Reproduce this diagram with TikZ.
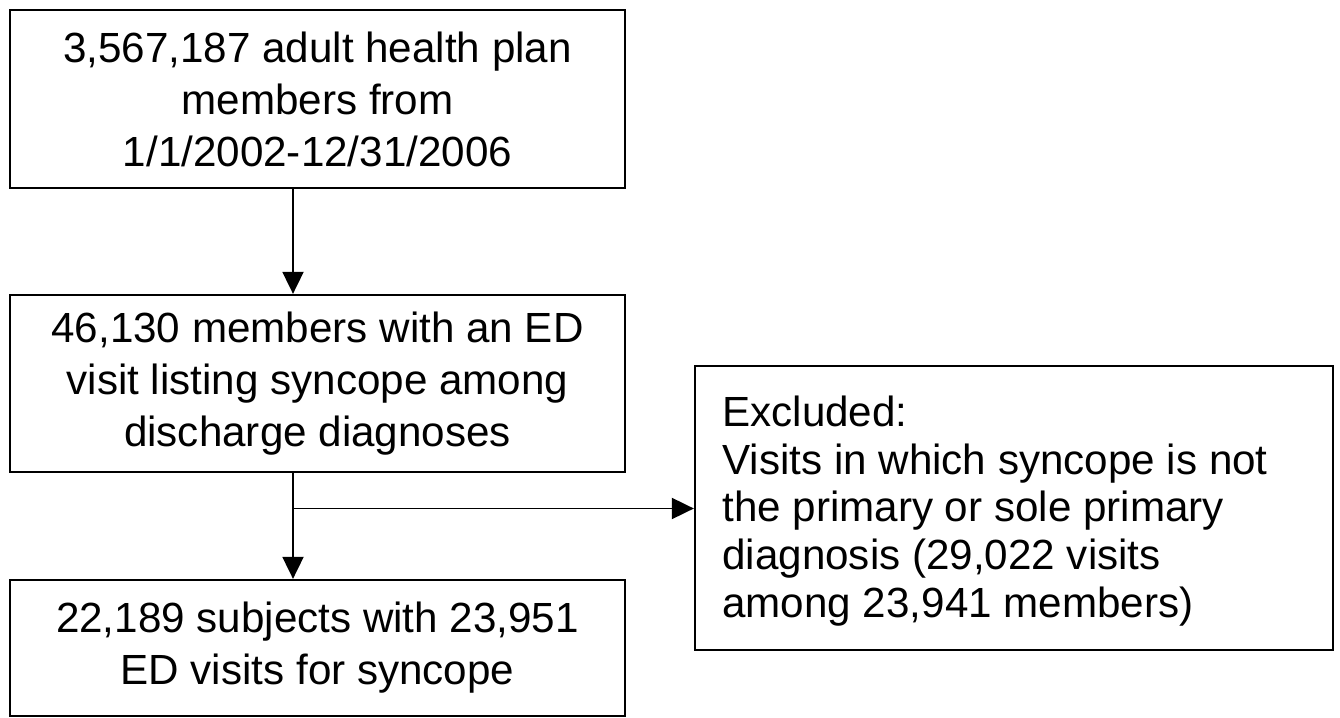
\documentclass[tikz,border=0pt]{standalone}
\usepackage{fontspec}
\setmainfont{Liberation Sans}
\usetikzlibrary{arrows.meta,positioning}

\begin{document}
\begin{tikzpicture}[
    box/.style={draw,line width=1.3pt,align=center,inner sep=0pt,
      font=\fontsize{24}{29.6}\selectfont},
    arr/.style={-{Triangle[length=0.44cm,width=0.42cm]},line width=1.1pt}
]
\useasboundingbox (0,0) rectangle (26.8,-14.36);

\node[box,minimum width=12.3cm,minimum height=3.56cm] (members) at (6.35,-1.98)
  {3,567,187 adult health plan\\members from\\1/1/2002-12/31/2006};
\node[box,minimum width=12.3cm,minimum height=3.54cm] (edvisit) at (6.35,-7.67)
  {46,130 members with an ED\\visit listing syncope among\\discharge diagnoses};
\node[box,minimum width=12.3cm,minimum height=2.72cm] (subjects) at (6.35,-12.96)
  {22,189 subjects with 23,951\\ED visits for syncope};
\node[box,minimum width=12.76cm,minimum height=5.68cm,align=left,
  font=\fontsize{24}{27.2}\selectfont] (excl) at (20.28,-10.16) {};
\node[align=left,anchor=west,inner sep=0pt,font=\fontsize{24}{27.2}\selectfont]
  (excltext) at (14.44,-10.22)
  {Excluded:\\Visits in which syncope is not\\the primary or sole primary\\diagnosis (29,022 visits\\among 23,941 members)};

% flow
\coordinate (split) at (5.86,-10.17);
\draw[arr] (members.south -| split) -- (edvisit.north -| split);
\draw[arr] (edvisit.south -| split) -- (subjects.north -| split);
\draw[arr] (split) -- (split -| excl.west);
\end{tikzpicture}
\end{document}
